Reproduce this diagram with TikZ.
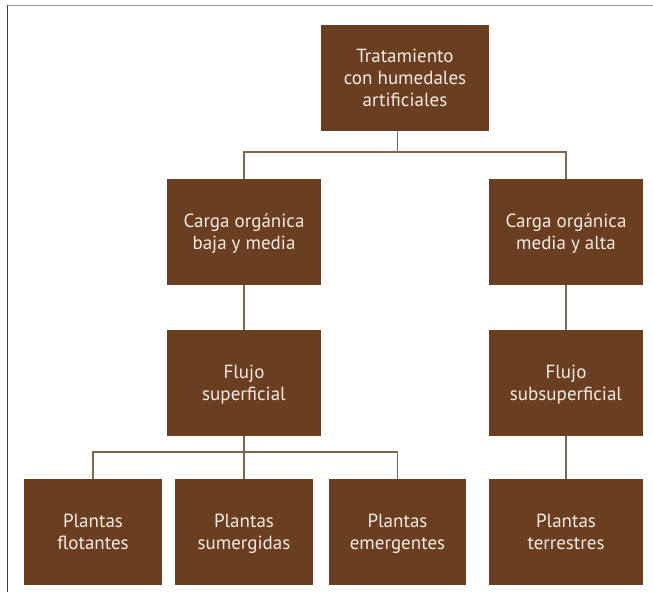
\documentclass[tikz,border=0pt]{standalone}
\usepackage{fontspec}
\setmainfont{PT Sans}
\usepackage{xcolor}
\usepackage{tikz}

\definecolor{boxbrown}{HTML}{6A3E21}
\definecolor{boxtext}{HTML}{F3EAE1}
\definecolor{linebrown}{HTML}{7D6552}

\begin{document}
\begin{tikzpicture}[x=1pt,y=-1pt,
    box/.style={rectangle, fill=boxbrown, text=boxtext, align=center,
        inner sep=0pt, minimum height=106pt, font=\fontsize{19}{22}\selectfont,
        text depth=0pt},
    wide/.style={box, minimum width=154pt},
    slim/.style={box, minimum width=138pt},
    link/.style={draw=linebrown, line width=1.6pt}]
            \useasboundingbox (0,0) rectangle (653,592);
            % Frame
            \draw[gray!85, line width=1.5pt] (7.5,5.5) -- (653,5.5);
            \draw[black!75, line width=1.5pt] (7.5,5) -- (7.5,592);

            % Nodes
            \node[box, minimum width=168pt] (trat) at (405,78) {Tratamiento\\con humedales\\artificiales};
            \node[wide] (baja) at (244,232) {Carga orgánica\\baja y media};
            \node[wide] (alta) at (566,232) {Carga orgánica\\media y alta};
            \node[wide] (sup) at (244,383) {Flujo\\superficial};
            \node[wide] (subsup) at (566,383) {Flujo\\subsuperficial};
            \node[slim] (flot) at (93,532) {Plantas\\flotantes};
            \node[slim] (sumer) at (244,532) {Plantas\\sumergidas};
            \node[slim, minimum width=137pt] (emer) at (397.5,532) {Plantas\\emergentes};
            \node[wide] (terr) at (566,532) {Plantas\\terrestres};
            \coordinate (j1) at (397.5,152);
            \coordinate (j2) at (244,452);

            % Edges
            \draw[link] (trat.south -| j1) -- (j1);
            \draw[link] (baja.north) |- (j1) -| (alta.north);
            \draw[link] (baja) -- (sup);
            \draw[link] (alta) -- (subsup);
            \draw[link] (sup.south) -- (j2);
            \draw[link] (flot.north) |- (j2) -| (emer.north);
            \draw[link] (j2) -- (sumer.north);
            \draw[link] (subsup) -- (terr);
        \end{tikzpicture}
\end{document}
